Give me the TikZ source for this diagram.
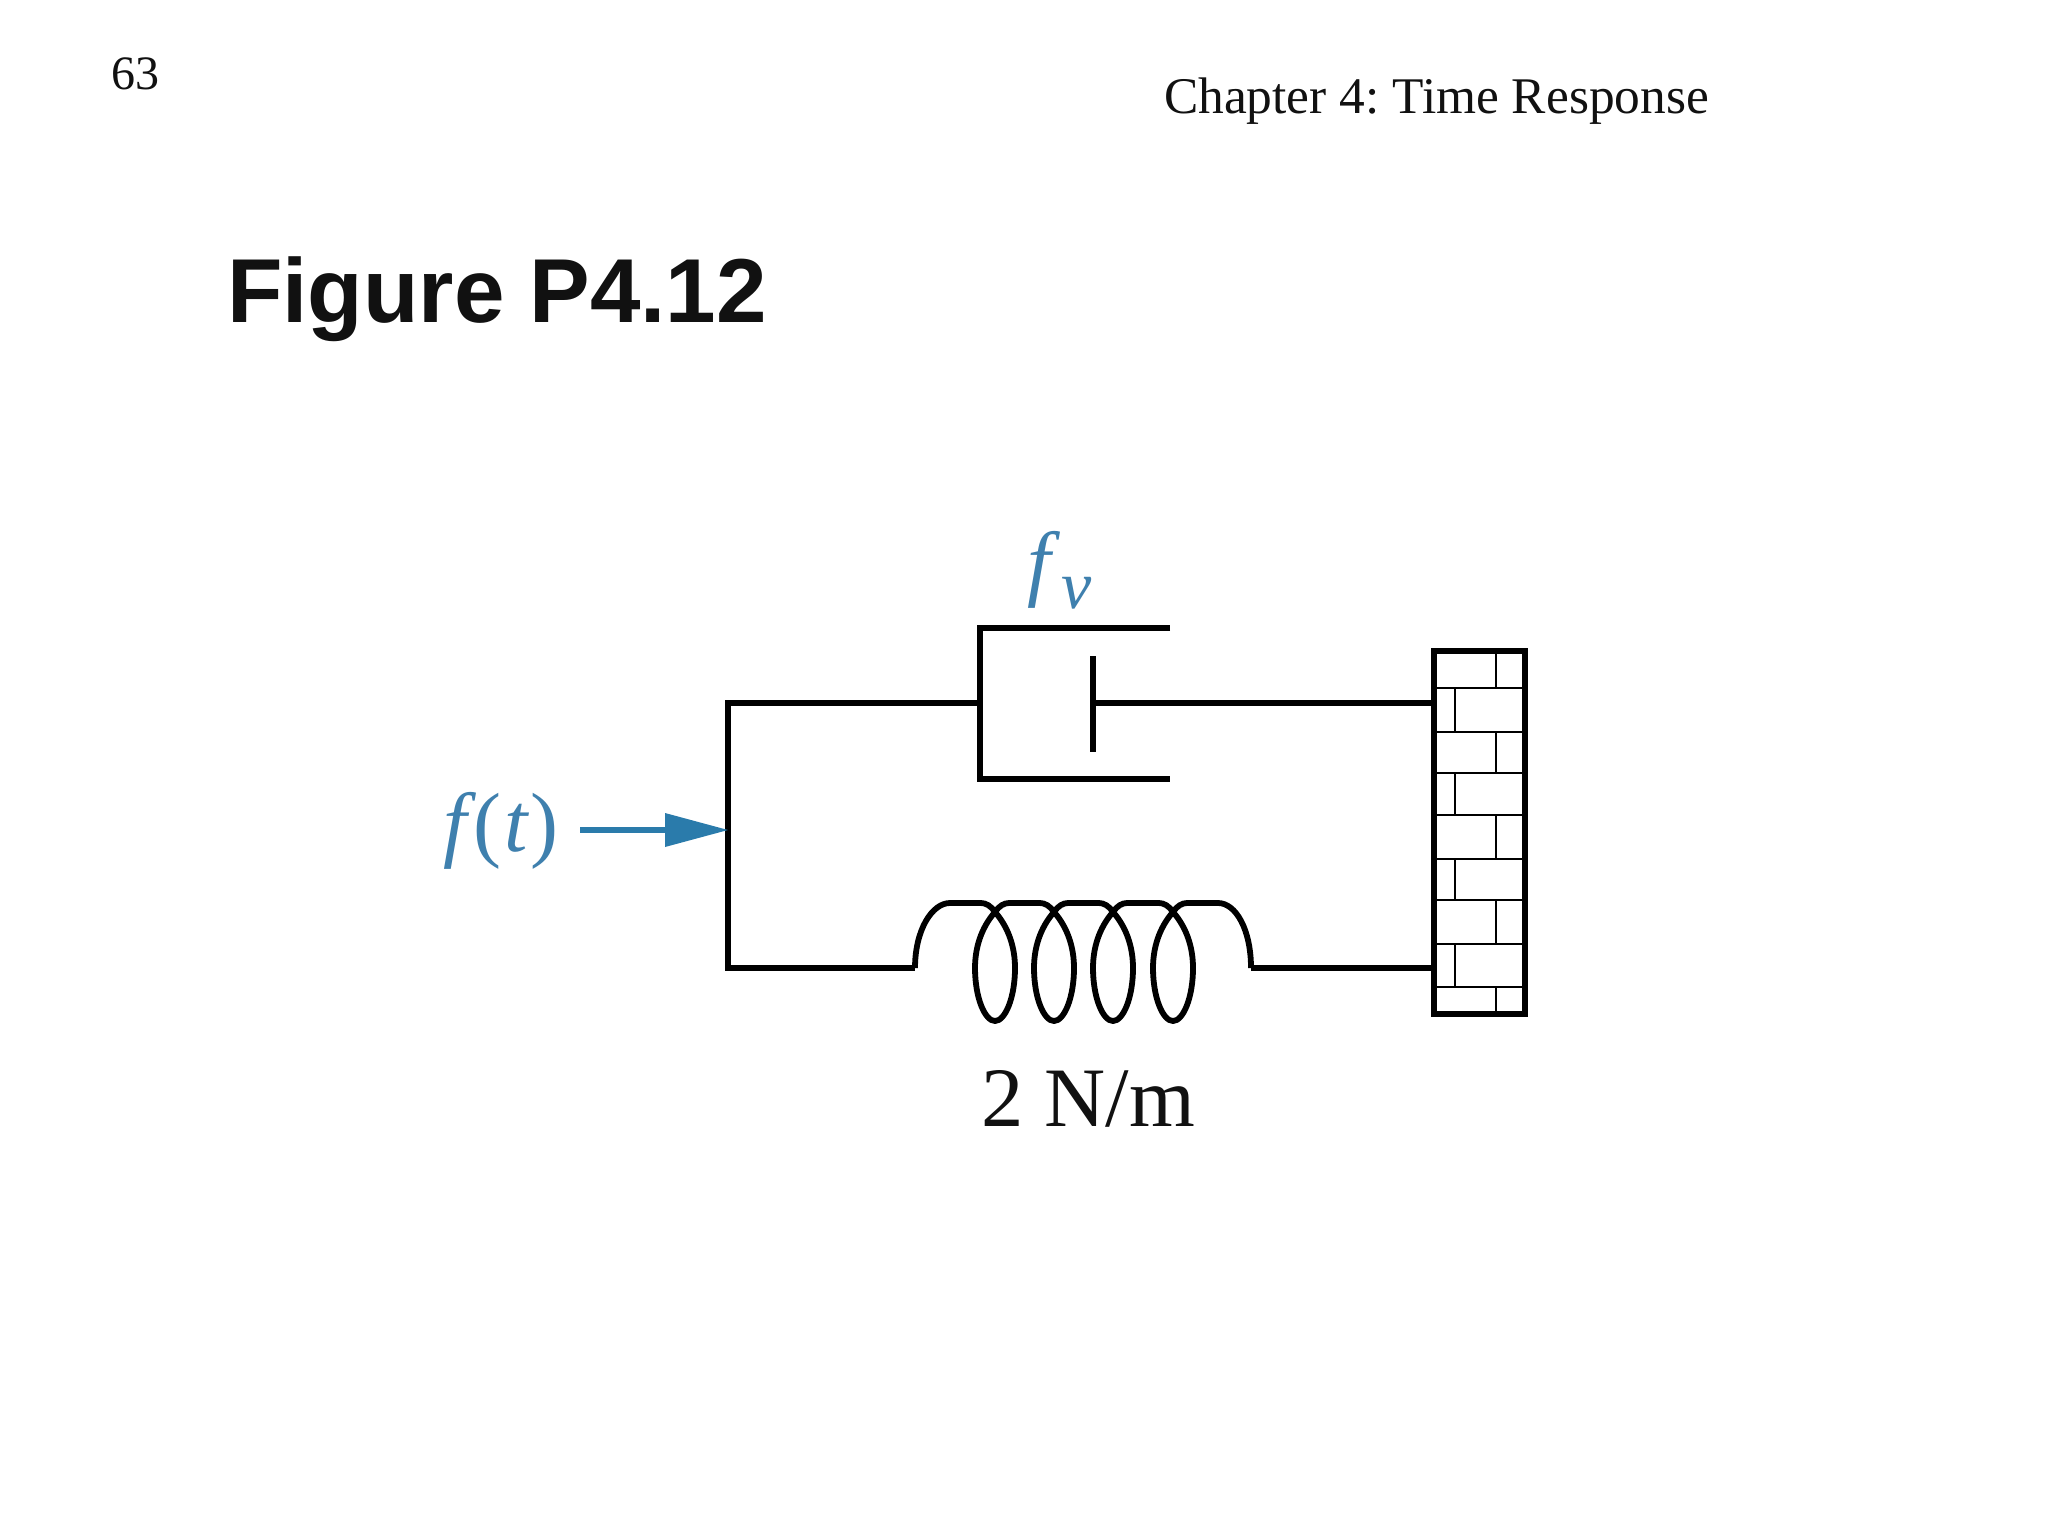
\documentclass[tikz,border=0pt]{standalone}
\usepackage{fontspec}
\setmainfont{Liberation Serif}
\newfontfamily\titlefont{Liberation Sans}
\frenchspacing
\definecolor{lblblue}{HTML}{3F80AE}
\definecolor{arrblue}{HTML}{2A7BAB}
\definecolor{inkblack}{HTML}{111111}
\tikzset{
  wire/.style={draw=black,line width=2.6pt,line join=miter},
  coil/.style={draw=black,line width=2.9pt,line join=round},
  wallout/.style={draw=black,line width=2.9pt},
  brick/.style={draw=black,line width=0.7pt},
  txt/.style={inner sep=0pt,outer sep=0pt,anchor=base west},
  force/.style={draw=arrblue,line width=2.7pt},
  forcehead/.style={fill=arrblue,draw=none}
}
\begin{document}
\begin{tikzpicture}[x=0.5pt,y=-0.5pt]
\useasboundingbox[fill=white] (0,0) rectangle (2048,1536);
% texts
\node[txt,text=inkblack] (page) at (111,90) {\fontsize{24}{24}\selectfont 63};
\node[txt,text=inkblack] (chap) at (1164,113) {\fontsize{25.7}{26}\selectfont Chapter 4: Time Response};
\node[txt,text=inkblack] (title) at (227,322) {\titlefont\bfseries\fontsize{45.4}{46}\selectfont Figure P4.12};
\node[txt,text=lblblue] (ft) at (443,851) {\fontsize{42}{44}\selectfont{\itshape f}\kern3.5pt(\kern1.5pt{\itshape t}\kern1.5pt)};
\node[txt,text=lblblue] (fv) at (1027,590) {\fontsize{42}{44}\selectfont\itshape f\kern5.5pt\raisebox{-9pt}{\fontsize{34}{34}\selectfont v}};
\node[txt,text=inkblack] (k) at (981,1126) {\fontsize{42.3}{44}\selectfont 2 N/m};
% key points
\coordinate (wtl) at (1434,651);
\coordinate (wbr) at (1525,1014);
\coordinate (wallA) at (1431,703);
\coordinate (wallB) at (1431,968);
\coordinate (junT) at (728,703);
\coordinate (junB) at (728,968);
\coordinate (junM) at (728,830);
\coordinate (dampL) at (980,703);
\coordinate (dampTL) at (980,628);
\coordinate (dampTR) at (1170,628);
\coordinate (dampBL) at (980,779);
\coordinate (dampBR) at (1170,779);
\coordinate (pistT) at (1093,656);
\coordinate (pistB) at (1093,752);
\coordinate (pistM) at (1093,703);
\coordinate (sprL) at (915,968);
\coordinate (sprR) at (1251,968);
\coordinate (arrS) at (580,830);
% bricks
\foreach \ya/\yb in {651/688,732/773,815/859,900/944,987/1014}
  \draw[brick] (1496,\ya) -- (1496,\yb);
\foreach \ya/\yb in {688/732,773/815,859/900,944/987}
  \draw[brick] (1455,\ya) -- (1455,\yb);
\foreach \y in {688,732,773,815,859,900,944,987}
  \draw[brick] (1434,\y) -- (1525,\y);
\draw[wallout] (wtl) rectangle (wbr);
% wires
\draw[wire] (dampL) -- (junT) -- (junB) -- (sprL);
\draw[wire] (sprR) -- (wallB);
\draw[wire] (pistM) -- (wallA);
\draw[wire] (dampTR) -- (dampTL) -- (dampBL) -- (dampBR);
\draw[wire] (pistT) -- (pistB);
% spring
\foreach \c in {995,1054,1113,1173}
  \draw[coil] (\c,912) .. controls (\c+14,928) and (\c+20,948) .. (\c+20,968)
    .. controls (\c+20,998) and (\c+10,1021) .. (\c,1021)
    .. controls (\c-10,1021) and (\c-20,998) .. (\c-20,968)
    .. controls (\c-20,948) and (\c-14,928) .. (\c,912);
\foreach \c/\d in {995/1054,1054/1113,1113/1173}
  \draw[coil] (\c,912) .. controls (\c+4,906) and (\c+9,903) .. (\c+14,903)
    -- (\d-14,903) .. controls (\d-9,903) and (\d-4,906) .. (\d,912);
\draw[coil] (sprL) .. controls (915,930) and (932,903) .. (950,903) -- (981,903)
   .. controls (986,903) and (991,906) .. (995,912);
\draw[coil] (1173,912) .. controls (1177,906) and (1182,903) .. (1187,903) -- (1218,903)
   .. controls (1236,903) and (1251,930) .. (sprR);
% force arrow
\draw[force] (arrS) -- (670,830);
\fill[forcehead] (665,813) -- (junM) -- (665,847) -- cycle;
\end{tikzpicture}
\end{document}
